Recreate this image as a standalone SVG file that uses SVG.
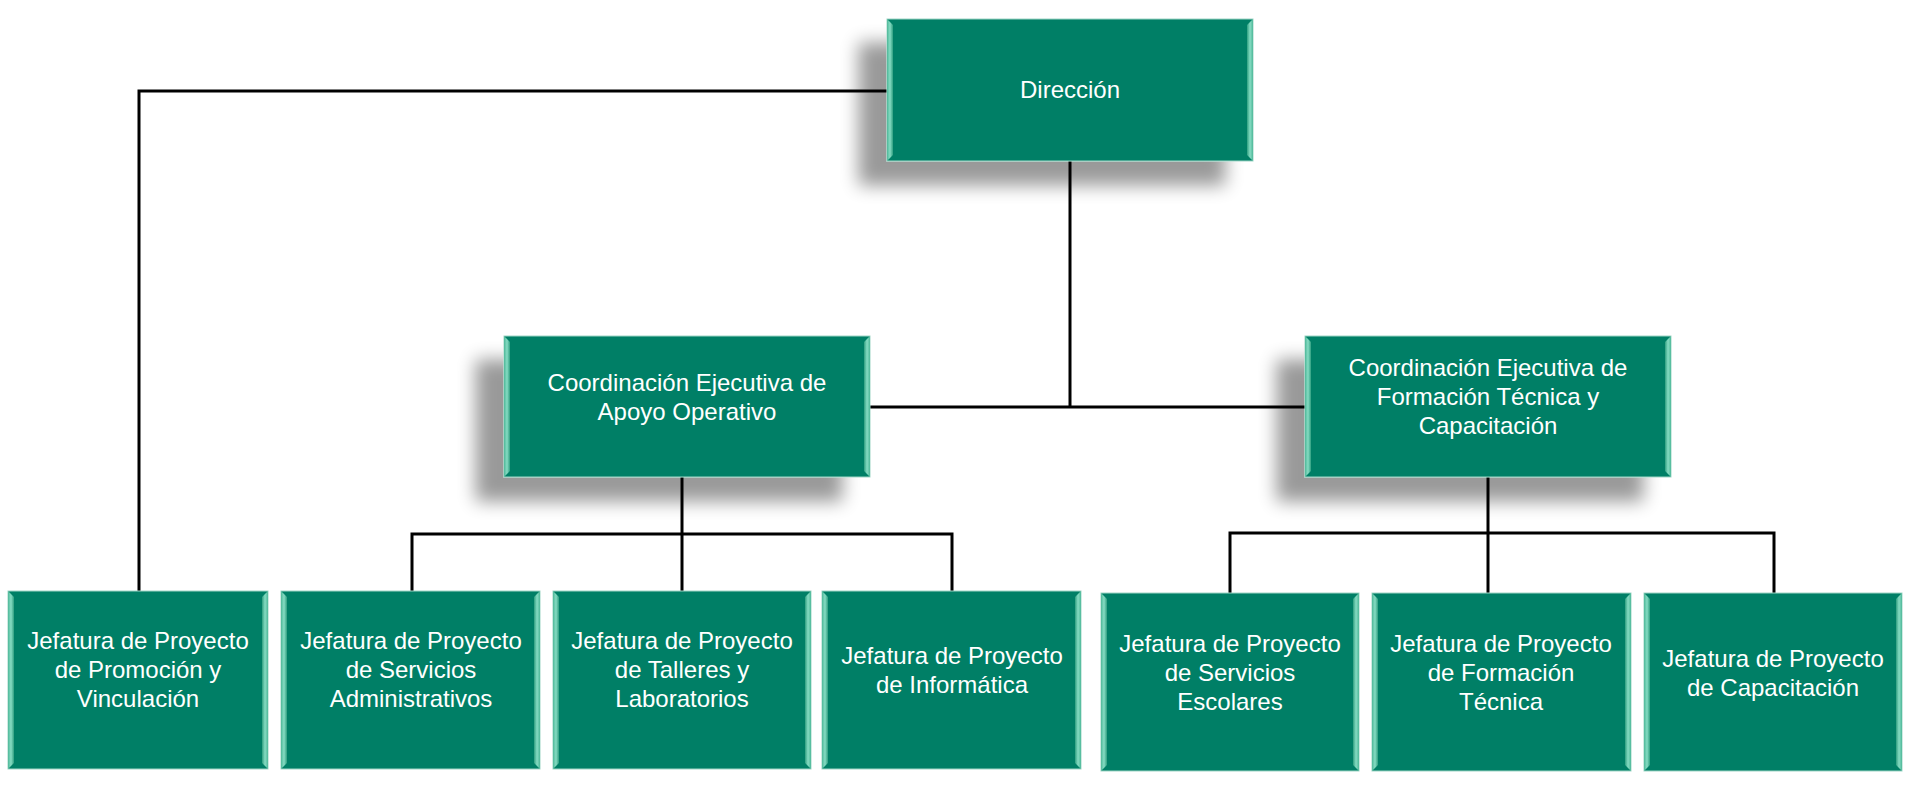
<svg xmlns="http://www.w3.org/2000/svg" width="1920" height="791" viewBox="0 0 1920 791">
<style>
.box{fill:#007F66;stroke:#9fd6c6;stroke-width:1}
.bev{fill:url(#bevL)}
.bevr{fill:url(#bevR)}
.t{font-family:"Liberation Sans",Arial,sans-serif;font-size:24px;fill:#ffffff;text-anchor:middle}
.c{fill:none;stroke:#000;stroke-width:3}
</style>
<defs>
<linearGradient id="bevL" x1="0" y1="0" x2="1" y2="0">
<stop offset="0" stop-color="#4fb899"/>
<stop offset="0.5" stop-color="#86dcc3"/>
<stop offset="1" stop-color="#2f9f80"/>
</linearGradient>
<linearGradient id="bevR" x1="0" y1="0" x2="1" y2="0">
<stop offset="0" stop-color="#2f9f80"/>
<stop offset="0.5" stop-color="#86dcc3"/>
<stop offset="1" stop-color="#4fb899"/>
</linearGradient>
<filter id="sh" x="-20%" y="-30%" width="140%" height="170%">
<feGaussianBlur in="SourceAlpha" stdDeviation="9"/>
<feOffset dx="-28" dy="24" result="b"/>
<feComponentTransfer><feFuncA type="linear" slope="0.4"/></feComponentTransfer>
<feMerge><feMergeNode/><feMergeNode in="SourceGraphic"/></feMerge>
</filter>
<g id="bevelTpl"></g>
</defs>

<g id="connectors">
<polyline class="c" points="887,91 139,91 139,591"/>
<line class="c" x1="1070" y1="161" x2="1070" y2="407"/>
<line class="c" x1="870" y1="407" x2="1305" y2="407"/>
<polyline class="c" points="412,591 412,534 952,534 952,591"/>
<line class="c" x1="682" y1="477" x2="682" y2="591"/>
<polyline class="c" points="1230,593 1230,533 1774,533 1774,593"/>
<line class="c" x1="1488" y1="477" x2="1488" y2="593"/>
</g>

<g id="n-direccion">
<rect class="box" x="887" y="19" width="366" height="142" filter="url(#sh)"/>
<polygon class="bev" points="887,19 893,25 893,155 887,161"/>
<polygon class="bevr" points="1247,25 1253,19 1253,161 1247,155"/>
<text class="t" x="1070" y="98">Dirección</text>
</g>

<g id="n-apoyo">
<rect class="box" x="504" y="336" width="366" height="141" filter="url(#sh)"/>
<polygon class="bev" points="504,336 510,342 510,471 504,477"/>
<polygon class="bevr" points="864,342 870,336 870,477 864,471"/>
<text class="t" x="687" y="391">Coordinación Ejecutiva de</text>
<text class="t" x="687" y="420">Apoyo Operativo</text>
</g>

<g id="n-formacion">
<rect class="box" x="1305" y="336" width="366" height="141" filter="url(#sh)"/>
<polygon class="bev" points="1305,336 1311,342 1311,471 1305,477"/>
<polygon class="bevr" points="1665,342 1671,336 1671,477 1665,471"/>
<text class="t" x="1488" y="376">Coordinación Ejecutiva de</text>
<text class="t" x="1488" y="405">Formación Técnica y</text>
<text class="t" x="1488" y="434">Capacitación</text>
</g>

<g id="n-promocion">
<rect class="box" x="8" y="591" width="260" height="178"/>
<polygon class="bev" points="8,591 14,597 14,763 8,769"/>
<polygon class="bevr" points="262,597 268,591 268,769 262,763"/>
<text class="t" x="138" y="649">Jefatura de Proyecto</text>
<text class="t" x="138" y="678">de Promoción y</text>
<text class="t" x="138" y="707">Vinculación</text>
</g>

<g id="n-servadmin">
<rect class="box" x="281" y="591" width="259" height="178"/>
<polygon class="bev" points="281,591 287,597 287,763 281,769"/>
<polygon class="bevr" points="534,597 540,591 540,769 534,763"/>
<text class="t" x="411" y="649">Jefatura de Proyecto</text>
<text class="t" x="411" y="678">de Servicios</text>
<text class="t" x="411" y="707">Administrativos</text>
</g>

<g id="n-talleres">
<rect class="box" x="553" y="591" width="258" height="178"/>
<polygon class="bev" points="553,591 559,597 559,763 553,769"/>
<polygon class="bevr" points="805,597 811,591 811,769 805,763"/>
<text class="t" x="682" y="649">Jefatura de Proyecto</text>
<text class="t" x="682" y="678">de Talleres y</text>
<text class="t" x="682" y="707">Laboratorios</text>
</g>

<g id="n-informatica">
<rect class="box" x="822" y="591" width="259" height="178"/>
<polygon class="bev" points="822,591 828,597 828,763 822,769"/>
<polygon class="bevr" points="1075,597 1081,591 1081,769 1075,763"/>
<text class="t" x="952" y="664">Jefatura de Proyecto</text>
<text class="t" x="952" y="693">de Informática</text>
</g>

<g id="n-escolares">
<rect class="box" x="1101" y="593" width="258" height="178"/>
<polygon class="bev" points="1101,593 1107,599 1107,765 1101,771"/>
<polygon class="bevr" points="1353,599 1359,593 1359,771 1353,765"/>
<text class="t" x="1230" y="652">Jefatura de Proyecto</text>
<text class="t" x="1230" y="681">de Servicios</text>
<text class="t" x="1230" y="710">Escolares</text>
</g>

<g id="n-formtec">
<rect class="box" x="1372" y="593" width="259" height="178"/>
<polygon class="bev" points="1372,593 1378,599 1378,765 1372,771"/>
<polygon class="bevr" points="1625,599 1631,593 1631,771 1625,765"/>
<text class="t" x="1501" y="652">Jefatura de Proyecto</text>
<text class="t" x="1501" y="681">de Formación</text>
<text class="t" x="1501" y="710">Técnica</text>
</g>

<g id="n-capacitacion">
<rect class="box" x="1644" y="593" width="258" height="178"/>
<polygon class="bev" points="1644,593 1650,599 1650,765 1644,771"/>
<polygon class="bevr" points="1896,599 1902,593 1902,771 1896,765"/>
<text class="t" x="1773" y="667">Jefatura de Proyecto</text>
<text class="t" x="1773" y="696">de Capacitación</text>
</g>
</svg>
